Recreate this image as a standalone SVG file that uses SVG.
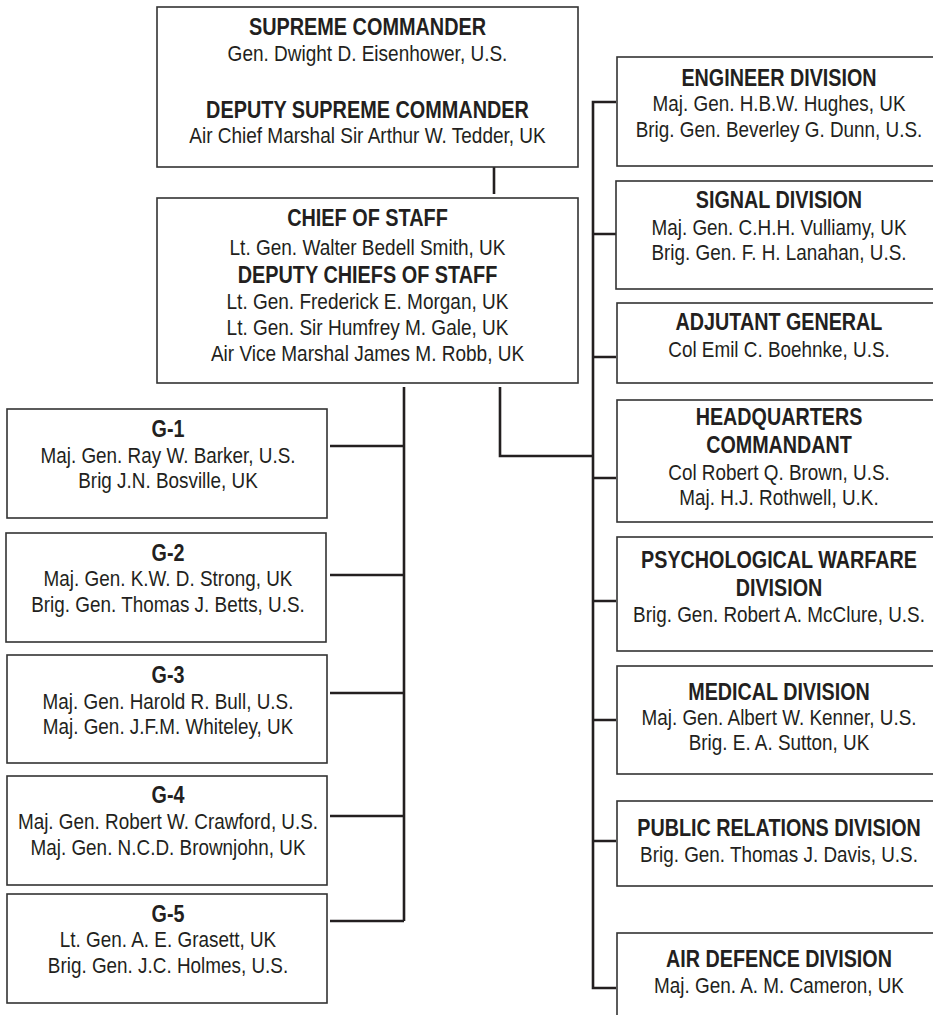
<svg xmlns="http://www.w3.org/2000/svg" width="933" height="1015" viewBox="0 0 933 1015">
<style>
.box{fill:#fff;stroke:#333;stroke-width:1.6}
.con{fill:none;stroke:#231f20;stroke-width:2.6;stroke-linecap:butt;stroke-linejoin:miter}
text{font-family:"Liberation Sans",Arial,sans-serif;fill:#231f20;text-anchor:middle}
.h{font-weight:bold;font-size:23.5px}
.t{font-size:22.5px}
</style>
<rect width="933" height="1015" fill="#fff"/>
<g id="connectors">
<path class="con" d="M494,167V194"/>
<path class="con" d="M404,387V921M330,446H404M330,575H404M330,693H404M330,816H404M330,921H404"/>
<path class="con" d="M500,387V456H593"/>
<path class="con" d="M616,102H593V988H616M593,234H616M593,357H616M593,478H616M593,601H616M593,720H616M593,841H616"/>
</g>
<g id="supreme">
<rect class="box" x="157" y="7" width="421" height="160"/>
<g transform="translate(367.5 0) scale(0.845 1)">
<text class="h" x="0" y="35">SUPREME COMMANDER</text>
<text class="t" x="0" y="61">Gen. Dwight D. Eisenhower, U.S.</text>
<text class="h" x="0" y="118">DEPUTY SUPREME COMMANDER</text>
<text class="t" x="0" y="143">Air Chief Marshal Sir Arthur W. Tedder, UK</text>
</g>
</g>
<g id="chief">
<rect class="box" x="157" y="198" width="421" height="185"/>
<g transform="translate(367.5 0) scale(0.845 1)">
<text class="h" x="0" y="226">CHIEF OF STAFF</text>
<text class="t" x="0" y="255">Lt. Gen. Walter Bedell Smith, UK</text>
<text class="h" x="0" y="283">DEPUTY CHIEFS OF STAFF</text>
<text class="t" x="0" y="309">Lt. Gen. Frederick E. Morgan, UK</text>
<text class="t" x="0" y="335">Lt. Gen. Sir Humfrey M. Gale, UK</text>
<text class="t" x="0" y="361">Air Vice Marshal James M. Robb, UK</text>
</g>
</g>
<g id="g1">
<rect class="box" x="7" y="409" width="320" height="109"/>
<g transform="translate(168 0) scale(0.84 1)">
<text class="h" x="0" y="437">G-1</text>
<text class="t" x="0" y="463">Maj. Gen. Ray W. Barker, U.S.</text>
<text class="t" x="0" y="488">Brig J.N. Bosville, UK</text>
</g>
</g>
<g id="g2">
<rect class="box" x="6" y="533" width="320" height="109"/>
<g transform="translate(168 0) scale(0.84 1)">
<text class="h" x="0" y="561">G-2</text>
<text class="t" x="0" y="586">Maj. Gen. K.W. D. Strong, UK</text>
<text class="t" x="0" y="612">Brig. Gen. Thomas J. Betts, U.S.</text>
</g>
</g>
<g id="g3">
<rect class="box" x="7" y="655" width="320" height="108"/>
<g transform="translate(168 0) scale(0.84 1)">
<text class="h" x="0" y="683">G-3</text>
<text class="t" x="0" y="709">Maj. Gen. Harold R. Bull, U.S.</text>
<text class="t" x="0" y="734">Maj. Gen. J.F.M. Whiteley, UK</text>
</g>
</g>
<g id="g4">
<rect class="box" x="7" y="776" width="320" height="109"/>
<g transform="translate(168 0) scale(0.84 1)">
<text class="h" x="0" y="803">G-4</text>
<text class="t" x="0" y="829">Maj. Gen. Robert W. Crawford, U.S.</text>
<text class="t" x="0" y="855">Maj. Gen. N.C.D. Brownjohn, UK</text>
</g>
</g>
<g id="g5">
<rect class="box" x="7" y="894" width="320" height="109"/>
<g transform="translate(168 0) scale(0.84 1)">
<text class="h" x="0" y="922">G-5</text>
<text class="t" x="0" y="947">Lt. Gen. A. E. Grasett, UK</text>
<text class="t" x="0" y="973">Brig. Gen. J.C. Holmes, U.S.</text>
</g>
</g>
<g id="engineer">
<rect class="box" x="617" y="57" width="325" height="109"/>
<g transform="translate(779 0) scale(0.84 1)">
<text class="h" x="0" y="86">ENGINEER DIVISION</text>
<text class="t" x="0" y="111">Maj. Gen. H.B.W. Hughes, UK</text>
<text class="t" x="0" y="137">Brig. Gen. Beverley G. Dunn, U.S.</text>
</g>
</g>
<g id="signal">
<rect class="box" x="616" y="181" width="326" height="108"/>
<g transform="translate(779 0) scale(0.84 1)">
<text class="h" x="0" y="208">SIGNAL DIVISION</text>
<text class="t" x="0" y="235">Maj. Gen. C.H.H. Vulliamy, UK</text>
<text class="t" x="0" y="260">Brig. Gen. F. H. Lanahan, U.S.</text>
</g>
</g>
<g id="adjutant">
<rect class="box" x="617" y="303" width="325" height="80"/>
<g transform="translate(779 0) scale(0.84 1)">
<text class="h" x="0" y="330">ADJUTANT GENERAL</text>
<text class="t" x="0" y="357">Col Emil C. Boehnke, U.S.</text>
</g>
</g>
<g id="hq">
<rect class="box" x="617" y="400" width="325" height="122"/>
<g transform="translate(779 0) scale(0.84 1)">
<text class="h" x="0" y="425">HEADQUARTERS</text>
<text class="h" x="0" y="453">COMMANDANT</text>
<text class="t" x="0" y="480">Col Robert Q. Brown, U.S.</text>
<text class="t" x="0" y="505">Maj. H.J. Rothwell, U.K.</text>
</g>
</g>
<g id="psych">
<rect class="box" x="617" y="537" width="325" height="114"/>
<g transform="translate(779 0) scale(0.84 1)">
<text class="h" x="0" y="568">PSYCHOLOGICAL WARFARE</text>
<text class="h" x="0" y="596">DIVISION</text>
<text class="t" x="0" y="622">Brig. Gen. Robert A. McClure, U.S.</text>
</g>
</g>
<g id="medical">
<rect class="box" x="617" y="666" width="325" height="108"/>
<g transform="translate(779 0) scale(0.84 1)">
<text class="h" x="0" y="700">MEDICAL DIVISION</text>
<text class="t" x="0" y="725">Maj. Gen. Albert W. Kenner, U.S.</text>
<text class="t" x="0" y="750">Brig. E. A. Sutton, UK</text>
</g>
</g>
<g id="publicrelations">
<rect class="box" x="617" y="801" width="325" height="85"/>
<g transform="translate(779 0) scale(0.84 1)">
<text class="h" x="0" y="836">PUBLIC RELATIONS DIVISION</text>
<text class="t" x="0" y="862">Brig. Gen. Thomas J. Davis, U.S.</text>
</g>
</g>
<g id="airdefence">
<rect class="box" x="617" y="933" width="325" height="95"/>
<g transform="translate(779 0) scale(0.84 1)">
<text class="h" x="0" y="967">AIR DEFENCE DIVISION</text>
<text class="t" x="0" y="993">Maj. Gen. A. M. Cameron, UK</text>
</g>
</g>
</svg>
